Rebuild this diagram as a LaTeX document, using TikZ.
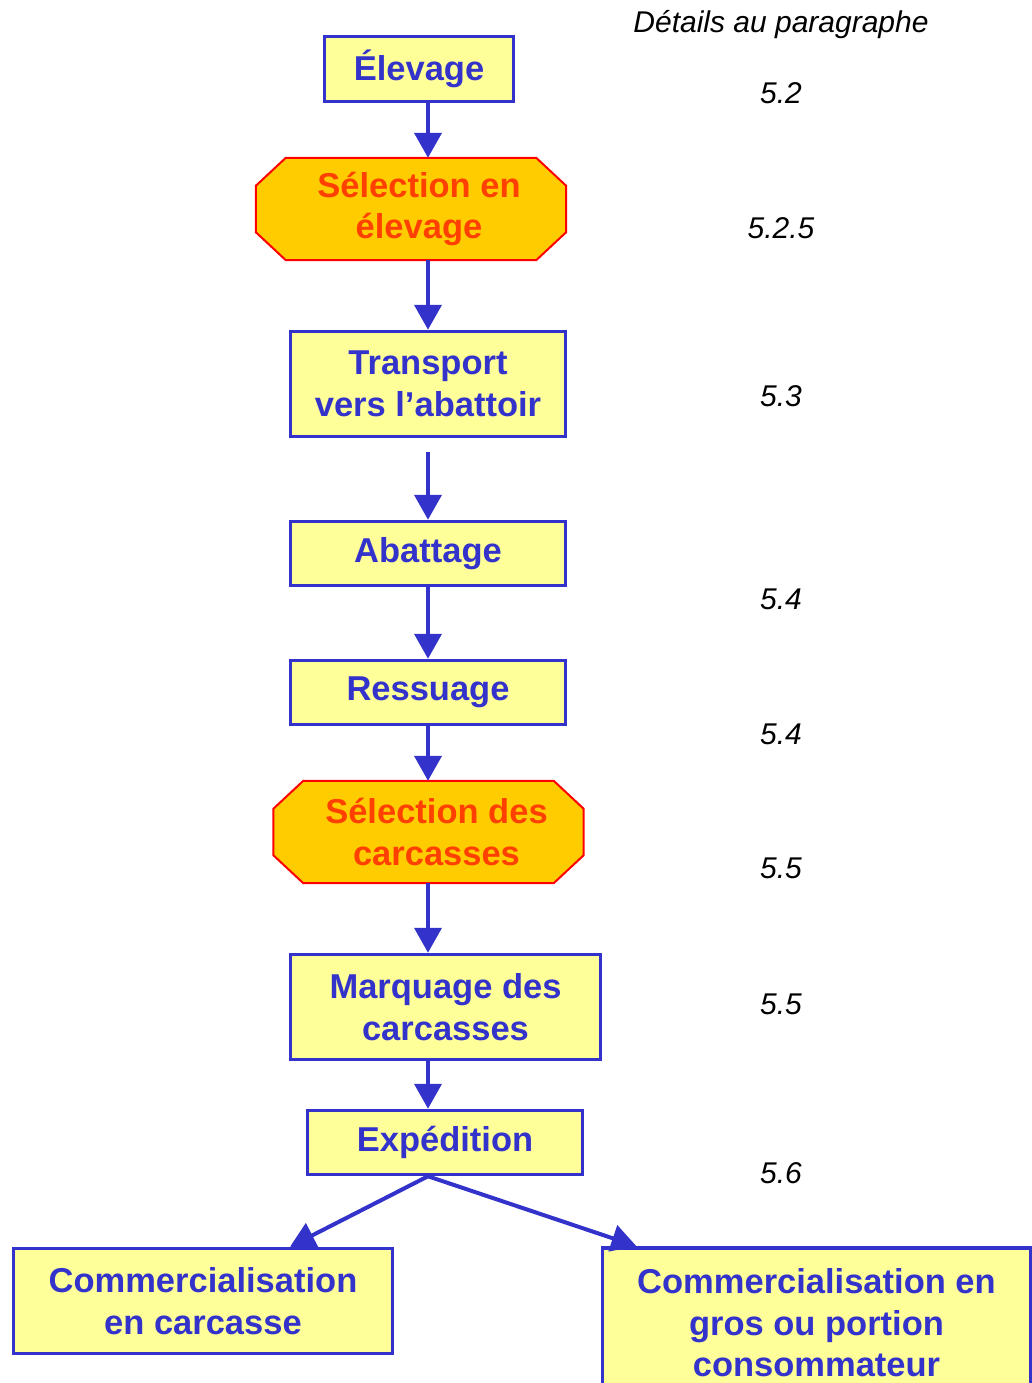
\documentclass[tikz,border=0pt]{standalone}
\usepackage{fontspec}
\setmainfont{Liberation Sans}
\usetikzlibrary{arrows.meta,calc,backgrounds}
\definecolor{boxblue}{RGB}{51,51,204}
\definecolor{boxyellow}{RGB}{255,255,153}
\definecolor{selorange}{RGB}{255,204,0}
\definecolor{selred}{RGB}{255,0,0}
\definecolor{seltext}{RGB}{255,64,0}
\tikzset{
  etape/.style={draw=boxblue,line width=3.5pt,fill=boxyellow,text=boxblue,inner sep=0pt,
    align=center,font=\fontsize{34.5}{41.5}\selectfont\bfseries},
  selection/.style={inner sep=0pt,minimum width=310pt,minimum height=102pt,text=seltext,
    align=center,font=\fontsize{34.5}{41.5}\selectfont\bfseries},
  octogone/.style={draw=selred,line width=2pt,fill=selorange,line join=miter},
  fleche/.style={-{Triangle[length=25pt,width=27pt]},color=boxblue,line width=4pt},
  para/.style={font=\fontsize{30}{36}\selectfont\itshape}
}
\begin{document}
\begin{tikzpicture}[x=1pt,y=-1pt]
		\useasboundingbox(0,0)rectangle(1032,1383);
		\clip(0,0)rectangle(1032,1383);
		% etapes
		\node[etape,minimum width=189pt,minimum height=65pt](elevage)at(419,69){Élevage};
		\node[selection](selelevage)at(419,209){Sélection en\\élevage};
		\node[etape,minimum width=275pt,minimum height=105pt](transport)at(428,384){Transport\\vers l’abattoir};
		\node[etape,minimum width=275pt,minimum height=64pt](abattage)at(428,553.5){Abattage};
		\node[etape,minimum width=275pt,minimum height=64pt](ressuage)at(428,692.5){Ressuage};
		\node[selection](selcarcasse)at(436.5,832){Sélection des\\carcasses};
		\node[etape,minimum width=310pt,minimum height=105pt](marquage)at(445.5,1007){Marquage des\\carcasses};
		\node[etape,minimum width=275pt,minimum height=64pt](expedition)at(445,1142.5){Expédition};
		\node[etape,minimum width=379pt,minimum height=105pt](carcasse)at(203,1301){Commercialisation\\en carcasse};
		\node[etape,minimum width=428pt,minimum height=150pt](gros)at(816.5,1323){Commercialisation en\\gros ou portion\\consommateur};
		% octogones derriere le texte
		\begin{scope}[on background layer]
		\foreach \s in {selelevage,selcarcasse}
			\draw[octogone]($(\s.north west)+(22,0)$)--($(\s.north east)+(-38,0)$)--($(\s.north east)+(-8,28)$)
				--($(\s.south east)+(-8,-28)$)--($(\s.south east)+(-38,0)$)--($(\s.south west)+(22,0)$)
				--($(\s.south west)+(-8,-28)$)--($(\s.north west)+(-8,28)$)--cycle;
		\end{scope}
		% fleches
		\coordinate(axe)at(428,0);
		\draw[fleche](elevage.south-|axe)--(selelevage.north-|axe);
		\draw[fleche](selelevage.south-|axe)--(transport.north-|axe);
		\draw[fleche,shorten <=14pt](transport.south-|axe)--(abattage.north-|axe);
		\draw[fleche](abattage.south-|axe)--(ressuage.north-|axe);
		\draw[fleche](ressuage.south-|axe)--(selcarcasse.north-|axe);
		\draw[fleche](selcarcasse.south-|axe)--(marquage.north-|axe);
		\draw[fleche](marquage.south-|axe)--(expedition.north-|axe);
		\draw[fleche](expedition.south-|axe)--($(carcasse.north)+(87,0)$);
		\draw[fleche](expedition.south-|axe)--($(gros.north)+(-180,0)$);
		% paragraphes
		\node[para](titre)at(781,25){Détails au paragraphe};
		\foreach \y/\p/\n in {93/5.2/pa,228/5.2.5/pb,396/5.3/pc,599/5.4/pd,734/5.4/pe,868/5.5/pf,1004/5.5/pg,1173/5.6/ph}
			\node[para](\n)at(781,\y){\p};
\end{tikzpicture}
\end{document}
